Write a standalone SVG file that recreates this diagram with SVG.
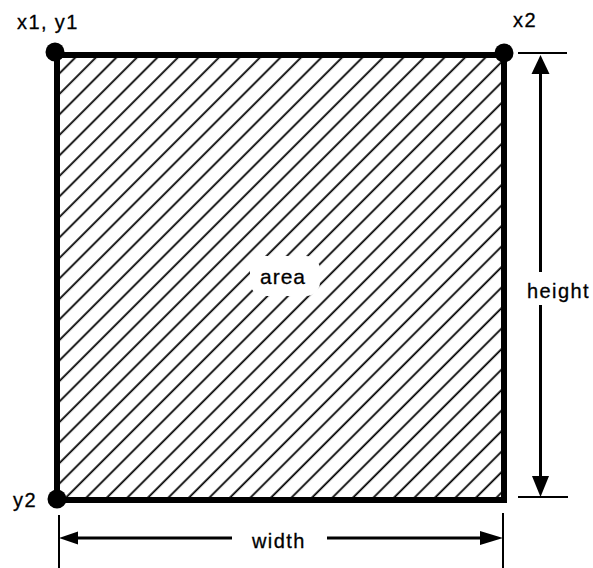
<svg xmlns="http://www.w3.org/2000/svg" width="593" height="568" viewBox="0 0 593 568">
  <style>
    .lbl { font-family: "Liberation Sans", Arial, sans-serif; font-size: 20px; fill: #000; stroke: #000; stroke-width: 0.3; letter-spacing: 1.4px; }
    .edge { fill: none; stroke: #000; stroke-width: 6; }
    .dim { stroke: #000; stroke-width: 3; fill: none; }
    .tick { stroke: #000; stroke-width: 2; fill: none; }
    .head { fill: #000; stroke: none; }
    .dot { fill: #000; }
  </style>
  <defs>
    <pattern id="hatch" patternUnits="userSpaceOnUse" width="14.5" height="14.5" patternTransform="rotate(45)">
      <line x1="7" y1="0" x2="7" y2="14.5" stroke="#000" stroke-width="1.8"/>
    </pattern>
  </defs>
  <rect width="593" height="568" fill="#fff"/>

  <g id="area">
    <rect x="57" y="55" width="447" height="445" fill="url(#hatch)"/>
    <rect x="250" y="256" width="70" height="40" rx="14" fill="#fff"/>
    <rect x="57" y="55" width="447" height="445" class="edge"/>
    <text x="260" y="284" class="lbl" style="font-size:21px;letter-spacing:1px">area</text>
  </g>

  <g id="p1">
    <circle cx="55" cy="52" r="9.5" class="dot"/>
    <text x="17" y="29" class="lbl">x1, y1</text>
  </g>
  <g id="p2">
    <circle cx="504" cy="53" r="9.5" class="dot"/>
    <text x="513" y="27" class="lbl">x2</text>
  </g>
  <g id="p3">
    <circle cx="57" cy="499" r="9.5" class="dot"/>
    <text x="13" y="507" class="lbl">y2</text>
  </g>

  <g id="connectors">
    <!-- height dimension -->
    <line x1="518" y1="53" x2="567" y2="53" class="tick"/>
    <line x1="518" y1="497" x2="568" y2="497" class="tick"/>
    <line x1="540.5" y1="70" x2="540.5" y2="272" class="dim"/>
    <line x1="540.5" y1="305" x2="540.5" y2="478" class="dim"/>
    <polygon points="540.5,55 531.5,74 549.5,74" class="head"/>
    <polygon points="540.5,497 532,476 549,476" class="head"/>
    <!-- width dimension -->
    <line x1="59" y1="515" x2="59" y2="568" class="tick"/>
    <line x1="503" y1="513" x2="503" y2="568" class="tick"/>
    <line x1="75" y1="538" x2="232" y2="538" class="dim"/>
    <line x1="327" y1="538" x2="485" y2="538" class="dim"/>
    <polygon points="59,538 78,531.5 78,544.5" class="head"/>
    <polygon points="503,538 480,531 480,545" class="head"/>
  </g>

  <g id="height-label">
    <text x="527" y="298" class="lbl">height</text>
  </g>
  <g id="width-label">
    <text x="252" y="548" class="lbl">width</text>
  </g>
</svg>
